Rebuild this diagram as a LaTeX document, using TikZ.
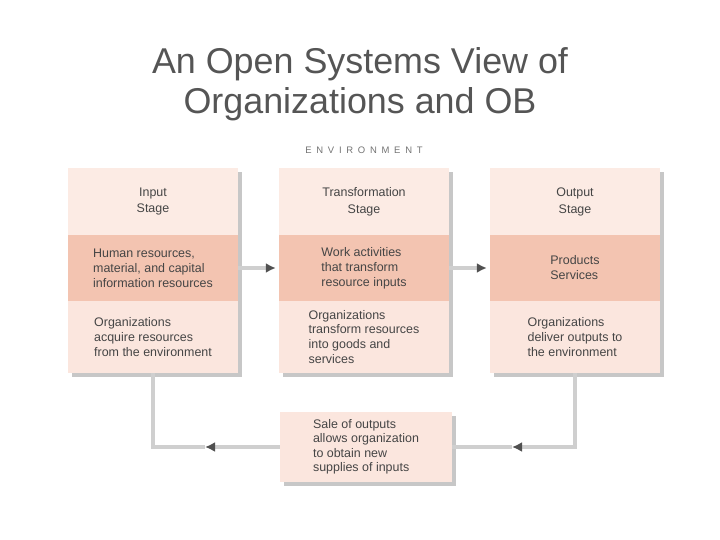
\documentclass[tikz,border=0pt]{standalone}
\usepackage{fontspec}
\setmainfont{Liberation Sans}
\newfontfamily\envfont[LetterSpace=50]{Liberation Sans}
\usetikzlibrary{arrows.meta,shadows}
\definecolor{bandlight}{HTML}{FBE6DE}
\definecolor{bandhead}{HTML}{FCEBE4}
\definecolor{banddark}{HTML}{F3C4B1}
\definecolor{linegray}{HTML}{CFCFCF}
\definecolor{tipgray}{HTML}{505050}
\definecolor{textgray}{HTML}{454545}
\definecolor{titlegray}{HTML}{555555}
\begin{document}
\begin{tikzpicture}[x=1bp,y=-1bp,
  every node/.style={inner sep=0pt,text=textgray},
  band/.style={minimum width=170bp,align=left,font=\fontsize{12.5}{15}\selectfont,
    drop shadow={shadow xshift=4bp,shadow yshift=-4bp,fill=black!22,opacity=1}},
  headband/.style={band,fill=bandhead,minimum height=67bp,align=center,font=\fontsize{12.5}{17}\selectfont},
  midband/.style={band,fill=banddark,minimum height=66bp},
  lowband/.style={band,fill=bandlight,minimum height=72bp},
  flow/.style={line width=4.5bp,draw=linegray},
  tip/.style={-{Latex[length=10bp,width=10bp,color=tipgray]}}]
\useasboundingbox (0,0) rectangle (720,540);

\node[font=\fontsize{36}{40}\selectfont,text=titlegray,align=center] (title) at (360,84)
  {An Open Systems View of\\Organizations and OB};
\node[font=\envfont\fontsize{9.5}{10}\selectfont,text=black!55] (env) at (364,150) {ENVIRONMENT};

\node[headband] (in1) at (153,201.5) {Input\\Stage};
\node[midband] (in2) at (153,268) {Human resources,\\material, and capital\\information resources};
\node[lowband] (in3) at (153,337) {Organizations\\acquire resources\\from the environment};

\node[headband] (tr1) at (364,201.5) {Transformation\\Stage};
\node[midband] (tr2) at (364,268) {Work activities\\that transform\\resource inputs};
\node[lowband] (tr3) at (364,337) {Organizations\\transform resources\\into goods and\\services};

\node[headband] (out1) at (575,201.5) {Output\\Stage};
\node[midband] (out2) at (575,268) {Products\\Services};
\node[lowband] (out3) at (575,337) {Organizations\\deliver outputs to\\the environment};

\node[band,fill=bandlight,minimum width=172bp,minimum height=70bp,font=\fontsize{12.5}{14.5}\selectfont] (fb) at (366,447)
  {Sale of outputs\\allows organization\\to obtain new\\supplies of inputs};

\coordinate (a1) at (205,447);
\coordinate (a2) at (512,447);

\draw[flow,tip,shorten >=3bp] (in2) -- (tr2);
\draw[flow,tip,shorten >=3bp] (tr2) -- (out2);
\draw[flow,tip] (out3.south) |- (a2);
\draw[flow] (a2) -- (fb.east);
\draw[flow,tip] (fb.west) -- (a1);
\draw[flow] (a1) -| (in3.south);
\end{tikzpicture}
\end{document}
